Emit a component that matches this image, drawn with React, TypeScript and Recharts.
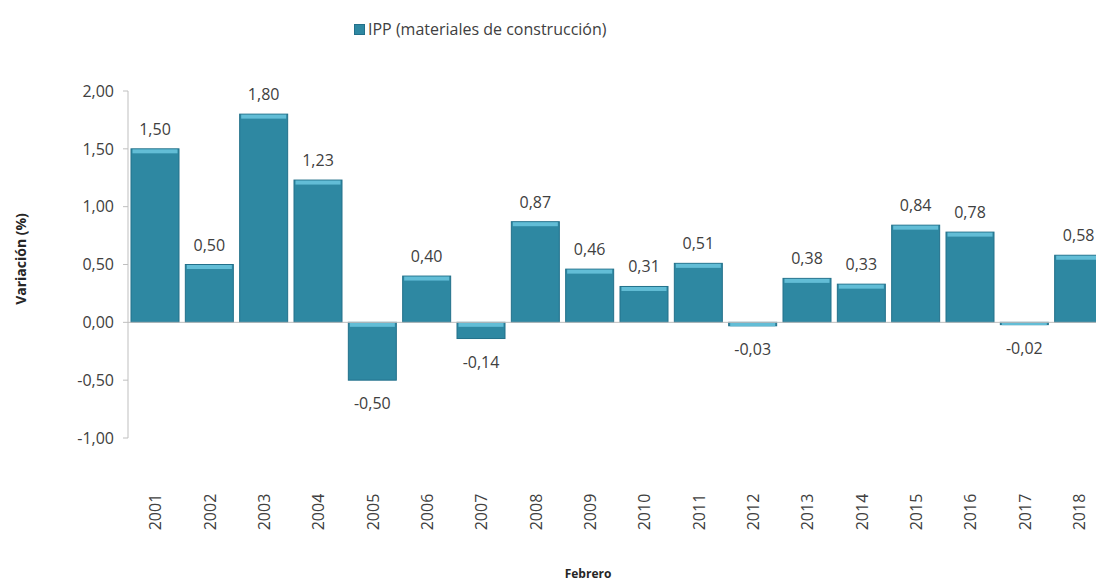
import React from "react";
import {
  Bar,
  BarChart,
  LabelList,
  Legend,
  ReferenceLine,
  XAxis,
  YAxis,
} from "recharts";

const years: string[] = [
  "2001", "2002", "2003", "2004", "2005", "2006", "2007", "2008", "2009",
  "2010", "2011", "2012", "2013", "2014", "2015", "2016", "2017", "2018",
];

const ipp: number[] = [
  1.5, 0.5, 1.8, 1.23, -0.5, 0.4, -0.14, 0.87, 0.46,
  0.31, 0.51, -0.03, 0.38, 0.33, 0.84, 0.78, -0.02, 0.58,
];

const yTicks: number[] = [-1, -0.5, 0, 0.5, 1, 1.5, 2];

const seriesName = "IPP (materiales de construcción)";

const data = years.map((year, i) => ({ year, ipp: ipp[i] }));

const FONT = "'Open Sans', 'Liberation Sans', sans-serif";
const TEXT = "#404040";
const BAR = "#2e88a2";

const fmt = (v: number) => v.toFixed(2).replace(".", ",");

const BevelBar = (props: any) => {
  const { x, y, width, height } = props;
  const top = Math.min(y, y + height);
  const h = Math.abs(height);
  if (!h) return null;
  const strip = Math.min(4, h);
  return (
    <g>
      <rect x={x} y={top} width={width} height={h} fill={BAR} stroke="#22708a" strokeWidth={1} />
      <rect x={x + 1.5} y={top + 0.5} width={width - 3} height={strip} fill="#62bdd6" />
    </g>
  );
};

const ValueLabel = (props: any) => {
  const { x, y, width, height, value } = props;
  const top = Math.min(y, y + height);
  const bottom = Math.max(y, y + height);
  const cy = value >= 0 ? top - 20 : bottom + 23;
  return (
    <text
      x={x + width / 2}
      y={cy}
      textAnchor="middle"
      dominantBaseline="central"
      fontFamily={FONT}
      fontSize={16}
      fill={TEXT}
    >
      {fmt(value)}
    </text>
  );
};

const YearTick = (props: any) => {
  const { x, y, payload } = props;
  return (
    <text
      x={x}
      y={y + 74}
      transform={`rotate(-90, ${x}, ${y + 74})`}
      textAnchor="middle"
      dominantBaseline="central"
      fontFamily={FONT}
      fontSize={16}
      fill={TEXT}
    >
      {payload.value}
    </text>
  );
};

const LegendBox = () => (
  <div style={{ display: "flex", alignItems: "center", fontFamily: FONT, fontSize: 16, color: TEXT }}>
    <span style={{ width: 11, height: 11, background: BAR, border: "1px solid #22708a", marginRight: 3, boxSizing: "border-box" }} />
    <span>{seriesName}</span>
  </div>
);

export default function App() {
  return (
    <div
      style={{
        position: "absolute",
        left: 0,
        top: 0,
        width: 1096,
        height: 583,
        overflow: "hidden",
        background: "#fff",
      }}
    >
      <BarChart
        width={1112}
        height={583}
        data={data}
        margin={{ top: 69, right: 6, bottom: 0, left: 8 }}
        barCategoryGap={3}
      >
        <Legend
          verticalAlign="top"
          content={<LegendBox />}
          wrapperStyle={{ position: "absolute", left: 354, top: 18, width: 320 }}
        />
        <YAxis
          domain={[-1, 2]}
          ticks={yTicks}
          width={120}
          tickFormatter={fmt}
          tickSize={5}
          tickMargin={9}
          stroke="#bfbfbf"
          tick={{ fill: TEXT, fontFamily: FONT, fontSize: 16 }}
          label={() => (
            <text
              x={20}
              y={259}
              transform="rotate(-90, 20, 259)"
              textAnchor="middle"
              dominantBaseline="central"
              fontFamily={FONT}
              fontSize={14}
              fontWeight="bold"
              fill="#262626"
            >
              Variación (%)
            </text>
          )}
        />
        <XAxis
          dataKey="year"
          height={145}
          axisLine={false}
          tickLine={false}
          tickSize={0}
          tickMargin={0}
          interval={0}
          tick={<YearTick />}
          label={() => (
            <text
              x={588}
              y={573}
              textAnchor="middle"
              dominantBaseline="central"
              fontFamily={FONT}
              fontSize={12}
              fontWeight="bold"
              fill="#262626"
            >
              Febrero
            </text>
          )}
        />
        <ReferenceLine y={0} stroke="#bfbfbf" />
        <Bar dataKey="ipp" name={seriesName} fill={BAR} shape={<BevelBar />} isAnimationActive={false}>
          <LabelList dataKey="ipp" content={<ValueLabel />} />
        </Bar>
      </BarChart>
    </div>
  );
}
